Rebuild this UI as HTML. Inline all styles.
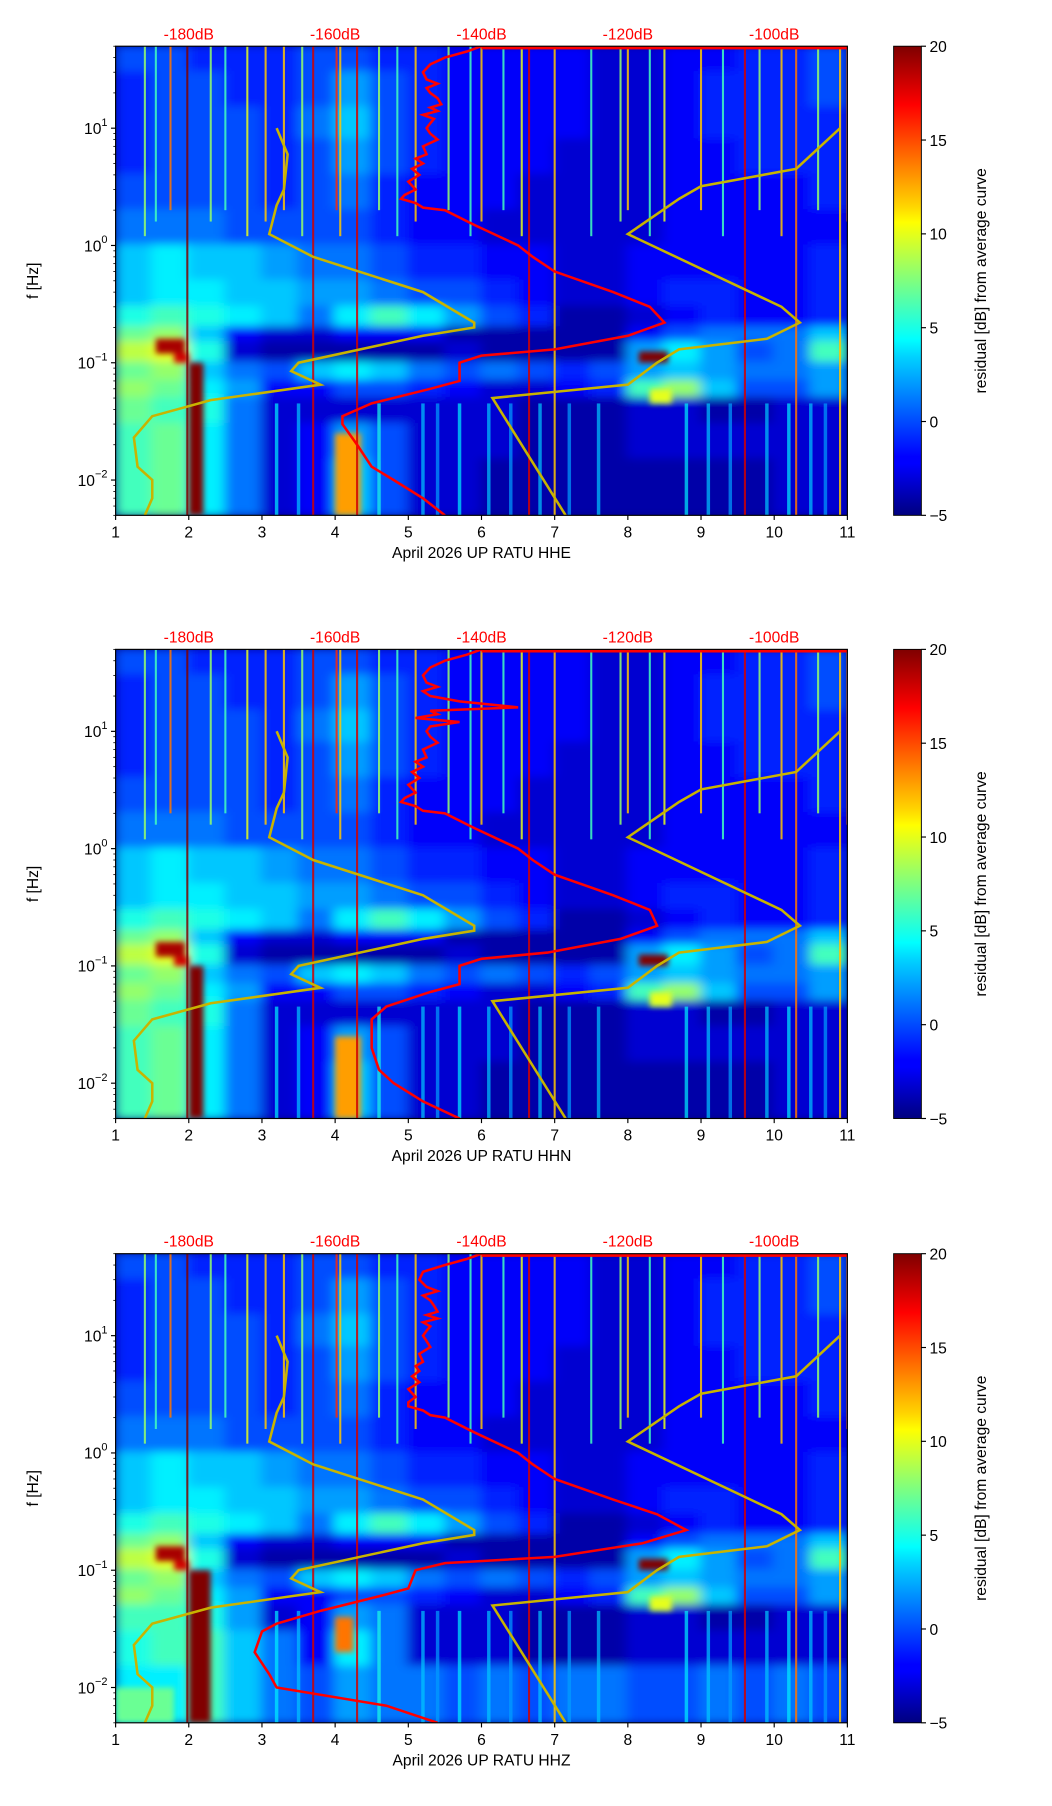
<!DOCTYPE html>
<html><head><meta charset="utf-8"><style>
html,body{margin:0;padding:0;background:#fff}
svg{display:block}
text{font-family:"Liberation Sans","DejaVu Sans",sans-serif}
</style></head><body>
<svg id="fig" width="1052" height="1806" viewBox="0 0 910 1563" preserveAspectRatio="none" xmlns="http://www.w3.org/2000/svg">
<defs>
<filter id="blur" filterUnits="userSpaceOnUse" x="0" y="0" width="910" height="1563"><feGaussianBlur stdDeviation="5 4"/></filter>
<filter id="blur2" filterUnits="userSpaceOnUse" x="0" y="0" width="910" height="1563"><feGaussianBlur stdDeviation="2.5 2.5"/></filter>
<linearGradient id="jetgrad" x1="0" y1="1" x2="0" y2="0">
<stop offset="0" stop-color="#00007f"/><stop offset="0.11" stop-color="#0000ff"/><stop offset="0.125" stop-color="#0000ff"/>
<stop offset="0.34" stop-color="#00d4ff"/><stop offset="0.375" stop-color="#00ffff"/><stop offset="0.5" stop-color="#7fff7f"/>
<stop offset="0.625" stop-color="#ffff00"/><stop offset="0.66" stop-color="#ffd400"/><stop offset="0.875" stop-color="#ff0000"/><stop offset="1" stop-color="#7f0000"/>
</linearGradient>
</defs>
</svg>
<script>
// ---- data ----
const days = [1,1.5,2,2.5,3,3.5,4,4.5,5,5.5,6,6.5,7,7.5,8,8.5,9,9.5,10,10.5,11];
const bandEdges = [50,30,15,8,4,2,1,0.5,0.3,0.2,0.15,0.1,0.07,0.05,0.03,0.015,0.005];
const gridBase = [
[0,0,-1,-1,-1,0,0,-1,-1,-2,-2,-2,-2,-3,-3,-2,-2,-1,-1,0],
[-1,0,0,-1,-1,0,2,0,-1,-2,-2,-2,-2,-3,-3,-2,-1,-1,-1,0],
[-1,0,0,0,-1,1,3,0,-1,-2,-2,-2,-2,-3,-3,-2,-1,-1,-1,-1],
[-1,0,0,0,-1,0,2,0,-1,-2,-2,-2,-3,-3,-3,-2,-2,-1,-1,-1],
[0,0,0,0,-1,0,1,-1,-2,-2,-2,-3,-3,-3,-3,-2,-2,-2,-2,-1],
[1,1,1,0,0,0,0,-1,-2,-2,-3,-3,-3,-3,-3,-2,-2,-2,-2,-2],
[3,4,3,3,2,1,1,0,-1,-1,-2,-2,-3,-3,-2,-2,-2,-2,-2,-1],
[3,4,4,3,3,2,2,1,0,0,-1,-2,-3,-3,-2,-1,-1,-2,-2,-1],
[5,6,5,4,3,1,4,6,4,2,0,-1,-4,-4,-3,-2,-1,-2,-2,-1],
[7,8,3,-2,-3,-3,-2,-2,-2,-4,-4,-4,-4,-4,-2,0,1,1,1,3],
[9,10,5,-3,-4,-4,-4,-4,-4,-3,-4,-4,-4,-4,2,4,2,0,1,6],
[7,8,3,1,0,3,4,3,1,0,1,0,-1,0,2,3,2,1,1,2],
[8,7,4,2,-2,-2,0,0,-1,-2,-3,-3,-2,-1,6,8,3,0,0,2],
[7,6,5,1,-3,-3,-3,-3,-3,-3,-3,-4,-4,-4,-3,-3,-4,-4,-3,-3],
[6,7,4,1,-3,-2,2,0,-3,-3,-3,-4,-4,-4,-3,-3,-3,-3,-3,-3],
[6,7,4,1,-3,-2,3,0,-3,-3,-4,-4,-4,-4,-4,-4,-4,-4,-3,-3]];
const gridLow3 = [
[6,6,5,2,-3,-2,2,1,-3,-3,-3,-4,-4,-4,-3,-3,-4,-4,-3,-3],
[5,6,6,3,1,-2,4,1,-3,-3,-3,-4,-4,-4,-3,-3,-3,-3,-3,-3],
[4,4,6,3,1,0,2,1,1,0,1,0,1,1,0,0,1,0,1,0]];
// localized hot spots: day start, day end, f top, f bottom, dB
const burstD0_12 = [2.0,4.0,1.55,8.15,8.3,1.8];
const burstD1_12 = [2.2,4.35,1.95,8.55,8.6,2.0];
const burstFt_12 = [0.1,0.025,0.16,0.125,0.06,0.12];
const burstFb_12 = [0.005,0.005,0.12,0.1,0.045,0.1];
const burstV_12 = [20,13,19,20,10,18];
const burstD0_3 = [2.0,4.0,1.55,8.15,8.3,1.0,1.8];
const burstD1_3 = [2.3,4.25,1.95,8.55,8.6,1.8,2.0];
const burstFt_3 = [0.1,0.04,0.16,0.125,0.06,0.01,0.12];
const burstFb_3 = [0.005,0.02,0.12,0.1,0.045,0.005,0.1];
const burstV_3 = [20,14,19,20,10,7,18];
// streaks: day, dB value, extends full height (1) or only upper (0)
const streakDays = [1.4,1.55,1.75,1.98,2.3,2.5,2.8,3.05,3.3,3.55,3.7,4.02,4.07,4.3,4.6,4.85,5.1,5.55,5.85,6.0,6.3,6.55,6.65,7.0,7.5,7.9,8.0,8.3,8.5,9.0,9.3,9.6,9.8,10.1,10.3,10.6,10.9,11.0];
const streakVals = [8,6,14,20,8,6,10,12,12,8,18,16,12,18,8,6,12,8,6,12,6,10,18,12,6,8,12,6,10,12,6,18,8,12,14,8,12,14];
const streakFull = [0,0,0,1,0,0,0,0,0,0,1,0,0,1,0,0,0,0,0,0,0,0,1,1,0,0,0,0,0,0,0,1,0,0,1,0,1,0];
const lowStreakDays = [3.2,3.5,4.6,5.2,5.4,5.7,6.1,6.4,6.8,7.2,7.6,8.8,9.1,9.4,9.9,10.2,10.5,10.7];
const lowStreakVals = [4,3,5,3,2,4,3,2,3,2,3,4,3,2,3,4,3,2];
// average PSD (red), frequency in Hz and dB
const redF1 = [50,45,40,35,30,26,24,22,20,18,16,15,14,13,12,11,10,9,8,7,6,5.5,5,4.5,4,3.5,3,2.7,2.5,2.3,2.1,2,1.5,1,0.8,0.6,0.4,0.3,0.22,0.17,0.13,0.115,0.1,0.07,0.06,0.045,0.035,0.03,0.02,0.013,0.01,0.007,0.005];
const redDb1 = [-140,-142,-145,-147,-148,-147.5,-146,-147.5,-147,-146,-145.5,-147,-146,-148,-146.5,-147,-147.5,-147,-146,-148,-147.5,-149,-148,-149.5,-148.5,-150,-149,-150.5,-151,-149,-148,-145,-141,-135,-133,-130,-122,-117,-115,-120,-130,-140,-143,-143,-147,-155,-159,-159,-157,-155,-152,-148,-145];
const redDb2 = [-140,-142,-145,-147,-148,-147.5,-146,-148,-147,-143,-135,-147,-146,-149,-143,-147,-147.5,-147,-146,-148,-147.5,-149,-148,-149.5,-148.5,-150,-149,-150.5,-151,-149,-148,-145,-141,-135,-133,-130,-122,-117,-116,-121,-131,-140,-143,-143,-147,-153,-155,-155,-155,-154,-152,-148,-143];
const redDb3 = [-140,-142,-145,-148,-148.5,-147.5,-146,-148,-147,-146.5,-146,-147.5,-146,-148,-147,-147.5,-148,-147.5,-147,-148.5,-148,-149,-148.5,-149.5,-148.5,-150,-149,-150,-150,-148,-147,-145,-141,-135,-133,-130,-122,-116,-112,-118,-130,-145,-149,-150,-154,-162,-168,-170,-171,-169,-168,-153,-146];
// noise models (yellow), dB
const nlnmF = [10,6,3,2.2,1.25,0.8,0.4,0.22,0.2,0.17,0.1,0.085,0.065,0.048,0.035,0.023,0.013,0.01,0.007,0.005];
const nlnmDb = [-168,-166.5,-167,-168,-169,-163,-148,-141,-141,-148,-165,-166,-162,-177,-185,-187.5,-187,-185,-185,-186];
const nhnmF = [10,4.5,3.2,2.5,1.25,0.3,0.22,0.16,0.13,0.1,0.065,0.05,0.005];
const nhnmDb = [-91,-97,-110,-113,-120,-99,-96.5,-101,-113,-116,-120,-138.5,-128.5];
const topTicksDb = [-180,-160,-140,-120,-100];
const xTicks = [1,2,3,4,5,6,7,8,9,10,11];
const yDecades = [-2,-1,0,1];
const cbTicks = [20,15,10,5,0,-5];
const channels = ["HHE","HHN","HHZ"];
const panelTops = [40,562,1085];

// ---- geometry ----
const NS="http://www.w3.org/2000/svg", svg=document.getElementById('fig');
const AX0=100, AX1=733, H=406, FMAX=50, FMIN=0.005, FS=13.5;
function xDay(d){return AX0+(d-1)/10*(AX1-AX0);}
function xDb(db){return xDay(1+(db+190)/10);}
function yF(top,f){return top+(Math.log10(FMAX)-Math.log10(f))/(Math.log10(FMAX)-Math.log10(FMIN))*H;}
function jet(v){let t=Math.max(0,Math.min(1,(v+5)/25));const c=x=>Math.round(255*Math.max(0,Math.min(1,1.5-Math.abs(4*t-x))));return `rgb(${c(3)},${c(2)},${c(1)})`;}
function mk(tag,attrs,parent){const e=document.createElementNS(NS,tag);for(const k in attrs)e.setAttribute(k,attrs[k]);(parent||svg).appendChild(e);return e;}

panelTops.forEach((top,pi)=>{
  const g=mk('g',{});
  
  
  const clip=mk('clipPath',{id:'clip'+pi},g);
  mk('rect',{x:AX0,y:top,width:AX1-AX0,height:H},clip);
  const plot=mk('g',{'clip-path':'url(#clip'+pi+')'},g);
  
  
  mk('rect',{x:AX0,y:top,width:AX1-AX0,height:H,fill:'#00007f'},plot);
  const hm=mk('g',{filter:'url(#blur)'},plot);
  for(let r=0;r<16;r++){
    let row=gridBase[r];
    if(pi===2&&r>=13)row=gridLow3[r-13];
    for(let c=0;c<20;c++){
      const y0=yF(top,bandEdges[r]),y1=yF(top,bandEdges[r+1]);
      const cell=mk('rect',{x:xDay(days[c])-1,y:y0-1,width:xDay(days[c+1])-xDay(days[c])+2,height:y1-y0+2,fill:jet(row[c])},hm);
      
      
    }
  }
  lowStreakDays.forEach((d,i)=>{
    const s=mk('rect',{x:xDay(d)-1.5,y:yF(top,0.045),width:3,height:yF(top,FMIN)-yF(top,0.045),fill:jet(lowStreakVals[i]),opacity:0.7},plot);
    
    
  });
  const bg=mk('g',{filter:'url(#blur2)'},plot);
  const B=pi===2?[burstD0_3,burstD1_3,burstFt_3,burstFb_3,burstV_3]:[burstD0_12,burstD1_12,burstFt_12,burstFb_12,burstV_12];
  B[0].forEach((d0,i)=>{
    const y0=yF(top,B[2][i]),y1=yF(top,B[3][i]);
    const b=mk('rect',{x:xDay(d0),y:y0,width:xDay(B[1][i])-xDay(d0),height:y1-y0,fill:jet(B[4][i])},bg);
    
    
  });
  streakDays.forEach((d,i)=>{
    const yb=streakFull[i]?yF(top,FMIN):yF(top,1.2+(i%3)*0.4);
    const s=mk('rect',{x:xDay(d)-0.9,y:top,width:1.8,height:yb-top,fill:jet(streakVals[i]),opacity:0.85},plot);
    
    
  });
  const rdb=[redDb1,redDb2,redDb3][pi];
  let p=redF1.map((f,i)=>xDb(rdb[i]).toFixed(1)+','+yF(top,f).toFixed(1)).join(' ');
  const topLine=mk('line',{x1:xDb(-140),y1:top+1.5,x2:AX1,y2:top+1.5,stroke:'#ff0000','stroke-width':2.5},plot);
  
  
  [[nlnmF,nlnmDb,'nlnm-curve'],[nhnmF,nhnmDb,'nhnm-curve']].forEach(([F,D,n])=>{
    const pl=mk('polyline',{points:F.map((f,i)=>xDb(D[i]).toFixed(1)+','+yF(top,f).toFixed(1)).join(' '),fill:'none',stroke:'#c8b400','stroke-width':2.2},plot);
    
    
  });
  const red=mk('polyline',{points:p,fill:'none',stroke:'#ff0000','stroke-width':2.2},plot);
  
  
  const frame=mk('rect',{x:AX0,y:top,width:AX1-AX0,height:H,fill:'none',stroke:'#000','stroke-width':1},g);
  
  
  xTicks.forEach(d=>{
    mk('line',{x1:xDay(d),y1:top+H,x2:xDay(d),y2:top+H+4,stroke:'#000'},g);
    const t=mk('text',{x:xDay(d),y:top+H+19,'font-size':FS,'text-anchor':'middle'},g);t.textContent=d;
    
    
  });
  topTicksDb.forEach(db=>{
    const t=mk('text',{x:xDb(db),y:top-6,'font-size':FS,'text-anchor':'middle',fill:'#ff0000'},g);t.textContent=db+'dB';
    
    
  });
  for(let e=-3;e<=1;e++)for(let m=1;m<10;m++){
    const f=m*Math.pow(10,e);if(f<FMIN||f>FMAX)continue;
    const yy=yF(top,f);mk('line',{x1:AX0-(m===1?4:2),y1:yy,x2:AX0,y2:yy,stroke:'#000','stroke-width':m===1?1:0.7},g);
  }
  yDecades.forEach(e=>{
    const t=mk('text',{x:AX0-7,y:yF(top,Math.pow(10,e))+5,'font-size':FS,'text-anchor':'end'},g);
    
    
    t.innerHTML='10<tspan dy="-7" font-size="9.5">'+(e<0?'\u2212'+(-e):e)+'</tspan>';
  });
  const yl=mk('text',{x:33,y:top+H/2,'font-size':FS,'text-anchor':'middle',transform:`rotate(-90 33 ${top+H/2})`},g);
  yl.textContent='f [Hz]';
  
  
  const xl=mk('text',{x:(AX0+AX1)/2,y:top+H+37,'font-size':FS,'text-anchor':'middle'},g);
  xl.textContent='April 2026 UP RATU  '+channels[pi];
  
  
  const cb=mk('rect',{x:773,y:top,width:24,height:H,fill:'url(#jetgrad)',stroke:'#000','stroke-width':0.8},g);
  
  
  cbTicks.forEach(v=>{
    const yy=top+(20-v)/25*H;
    mk('line',{x1:797,y1:yy,x2:801,y2:yy,stroke:'#000'},g);
    const t=mk('text',{x:804,y:yy+5,'font-size':FS},g);t.textContent=v<0?'\u2212'+(-v):v;
    
    
  });
  const cl=mk('text',{x:853,y:top+H/2,'font-size':FS,'text-anchor':'middle',transform:`rotate(-90 853 ${top+H/2})`},g);
  cl.textContent='residual [dB] from average curve';
  
  
});
</script>
</body></html>
